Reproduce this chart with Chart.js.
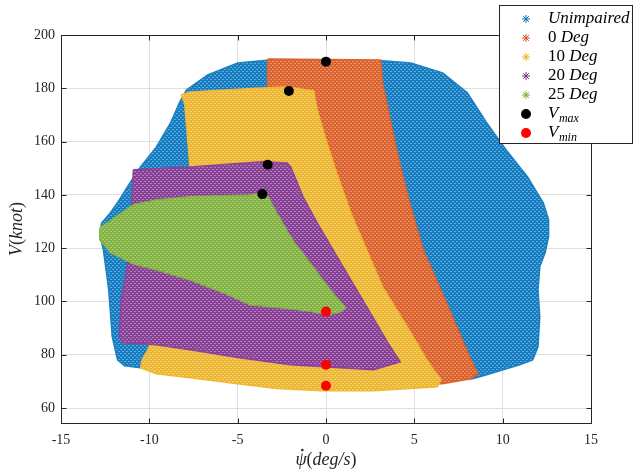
<!DOCTYPE html>
<html><head><meta charset="utf-8">
<script src="https://cdn.jsdelivr.net/npm/chart.js@4/dist/chart.umd.min.js"></script>
<style>html,body{margin:0;padding:0;background:#fff}#wrap{width:633px;height:472px}</style>
</head><body><div id="wrap"><canvas id="c" width="633" height="472"></canvas></div>
<script>
// ---- data ----
const xTickValues = [-15, -10, -5, 0, 5, 10, 15];
const yTickValues = [60, 80, 100, 120, 140, 160, 180, 200];
const seriesLabels = ['Unimpaired', '0 Deg', '10 Deg', '20 Deg', '25 Deg', 'V_max', 'V_min'];
const xTitle = 'ψ̇(deg/s)';
const yTitle = 'V(knot)';

// envelope outlines [yaw rate (deg/s), V (knot)]
const unimpaired = [[-12.7,129.5],[-12.8,125.0],[-12.6,119.4],[-12.3,104.4],[-12.1,86.8],[-11.8,78.1],[-11.4,75.9],[-10.5,75.1],[-5.0,71.4],[2.7,69.9],[8.3,71.0],[9.1,72.5],[11.0,76.3],[11.7,78.1],[12.0,83.0],[12.1,94.3],[12.0,104.4],[12.1,113.0],[12.4,118.3],[12.6,124.3],[12.6,130.6],[12.3,137.0],[11.4,146.8],[10.2,156.9],[9.1,167.0],[8.0,178.3],[6.6,185.8],[4.8,189.5],[3.2,190.3],[-3.2,190.6],[-5.0,189.5],[-6.7,185.0],[-7.9,179.4],[-8.3,174.5],[-8.8,167.0],[-9.6,158.0],[-10.5,150.5],[-11.1,144.5],[-11.7,138.1],[-12.2,133.3]];
const deg0 = [[-3.3,191.0],[3.1,190.6],[3.2,182.0],[3.6,169.3],[4.0,156.9],[4.3,148.3],[4.8,135.5],[5.5,119.4],[6.5,104.4],[7.4,90.5],[8.2,78.1],[8.6,72.9],[8.2,71.0],[6.6,69.1],[5.3,69.1],[-0.3,138.1],[-3.3,175.6]];
const deg10 = [[-8.2,177.5],[-7.7,178.6],[-3.7,180.1],[-2.2,180.5],[-0.7,179.0],[-0.5,171.9],[0.0,160.6],[0.6,148.3],[1.4,133.3],[2.3,119.4],[3.2,105.5],[4.6,90.5],[5.7,78.1],[6.5,70.6],[6.3,68.0],[2.7,66.5],[-0.2,66.5],[-2.8,67.3],[-5.0,69.1],[-7.7,71.4],[-9.6,72.9],[-10.5,75.1],[-10.4,78.1],[-10.0,83.0],[-7.7,150.5],[-8.0,174.5]];
const deg20 = [[-10.9,149.4],[-7.7,150.5],[-3.6,152.4],[-2.2,152.0],[-2.0,150.5],[-1.3,139.3],[-0.5,129.5],[0.4,119.4],[1.4,108.1],[2.5,95.8],[3.5,84.5],[4.2,77.4],[2.7,74.4],[0.8,75.1],[-2.0,76.3],[-4.9,78.9],[-7.7,81.9],[-9.6,83.8],[-11.5,84.5],[-11.7,86.8],[-11.6,100.6],[-11.3,110.8],[-11.1,123.1],[-11.0,138.1]];
const deg25 = [[-12.8,127.6],[-10.9,136.3],[-9.6,138.1],[-7.7,139.3],[-4.3,140.0],[-3.6,140.8],[-3.3,139.6],[-2.8,133.3],[-1.9,123.1],[-0.9,114.5],[0.1,105.5],[1.1,97.6],[0.8,96.1],[0.1,95.0],[-0.7,96.1],[-2.4,97.6],[-4.3,98.8],[-5.8,103.3],[-7.7,108.1],[-9.6,111.9],[-10.9,114.1],[-12.2,118.3],[-12.8,123.1]];
const vmaxX = [0, -2.1, -3.3, -3.6];
const vmaxY = [190, 179, 151.3, 140.3];
const vminX = [0, 0, 0];
const vminY = [96.2, 76.3, 68.4];

// ---- styling ----
const colors = ['#0072BD', '#D95319', '#EDB120', '#7E2F8E', '#77AC30'];
function mix(hex, t) {
  const n = parseInt(hex.slice(1), 16);
  const r = (n >> 16) & 255, g = (n >> 8) & 255, b = n & 255;
  return `rgb(${Math.round(r + (255 - r) * t)},${Math.round(g + (255 - g) * t)},${Math.round(b + (255 - b) * t)})`;
}
function pattern(hex) {
  const c = document.createElement('canvas'); c.width = 4; c.height = 4;
  const x = c.getContext('2d');
  x.fillStyle = mix(hex, 0.08); x.fillRect(0, 0, 4, 4);
  x.fillStyle = mix(hex, 0.4);
  x.fillRect(0, 1, 2, 1); x.fillRect(2, 3, 2, 1);
  return x.createPattern(c, 'repeat');
}
function closed(arr) { const p = arr.map(([x, y]) => ({x, y})); p.push({x: arr[0][0], y: arr[0][1]}); return p; }

const regions = [unimpaired, deg0, deg10, deg20, deg25];
const datasets = regions.map((r, i) => ({
  label: seriesLabels[i],
  data: closed(r),
  showLine: true,
  fill: 'shape',
  backgroundColor: pattern(colors[i]),
  borderColor: mix(colors[i], 0.1),
  borderWidth: 1.5,
  pointRadius: 0,
  pointHoverRadius: 0,
  pointStyle: 'star',
  legendColor: colors[i],
  tension: 0,
  order: 10 - i
}));
datasets.push({
  label: seriesLabels[5], data: vmaxX.map((x, i) => ({x, y: vmaxY[i]})),
  showLine: false, pointStyle: 'circle', pointRadius: 5, backgroundColor: '#000', borderColor: '#000', borderWidth: 0, legendColor: '#000', order: 1
});
datasets.push({
  label: seriesLabels[6], data: vminX.map((x, i) => ({x, y: vminY[i]})),
  showLine: false, pointStyle: 'circle', pointRadius: 5, backgroundColor: '#ff0000', borderColor: '#ff0000', borderWidth: 0, legendColor: '#ff0000', order: 0
});

const SERIF = '"Liberation Serif", "DejaVu Serif", serif';
const AX = '#262626';

// draws math-like text: digits & brackets upright, letters italic, "_" subscript
function mathRuns(text) {
  return text.match(/[\d()\/]+|[^\d()\/]+/g).map(r => ({t: r, it: !/[\d()]/.test(r[0]) || r[0] === '/'}));
}
function mathWidth(ctx, text, size) {
  let w = 0;
  for (const r of mathRuns(text)) { ctx.font = (r.it ? 'italic ' : '') + size + 'px ' + SERIF; w += ctx.measureText(r.t).width; }
  return w;
}
function drawMath(ctx, text, x, y, size) {
  const parts = text.split('_');
  let cx = x;
  for (const r of mathRuns(parts[0])) {
    ctx.font = (r.it ? 'italic ' : '') + size + 'px ' + SERIF;
    ctx.fillText(r.t, cx, y);
    cx += ctx.measureText(r.t).width;
  }
  if (parts[1]) {
    ctx.font = 'italic ' + Math.round(size * 0.72) + 'px ' + SERIF;
    ctx.fillText(parts[1], cx + 0.5, y + size * 0.28);
  }
  return cx;
}

const boxPlugin = {
  id: 'box',
  afterDatasetsDraw(chart) {
    const ctx = chart.ctx, a = chart.chartArea;
    const xs = chart.scales.x, ys = chart.scales.y;
    ctx.save();
    ctx.strokeStyle = AX; ctx.lineWidth = 1;
    const L = Math.round(a.left) + 0.5, R = Math.round(a.right) + 0.5, T = Math.round(a.top) + 0.5, B = Math.round(a.bottom) + 0.5;
    ctx.strokeRect(L, T, R - L, B - T);
    ctx.beginPath();
    for (const v of xTickValues) {
      const p = Math.round(xs.getPixelForValue(v)) + 0.5;
      ctx.moveTo(p, B); ctx.lineTo(p, B - 5);
      ctx.moveTo(p, T); ctx.lineTo(p, T + 5);
    }
    for (const v of yTickValues) {
      const p = Math.round(ys.getPixelForValue(v)) + 0.5;
      ctx.moveTo(L, p); ctx.lineTo(L + 5, p);
      ctx.moveTo(R, p); ctx.lineTo(R - 5, p);
    }
    ctx.stroke();
    ctx.restore();
  },
  afterDraw(chart) {
    const ctx = chart.ctx;
    ctx.save();
    // x-axis title: psi with dot accent
    const a = chart.chartArea;
    const size = 18;
    const base = xTitle.replace('\u0307', '');
    const w = mathWidth(ctx, base, size);
    const tx = (a.left + a.right) / 2 - w / 2, ty = 460;
    ctx.fillStyle = AX; ctx.textBaseline = 'middle'; ctx.textAlign = 'left';
    ctx.font = 'italic ' + size + 'px ' + SERIF;
    const pw = ctx.measureText('ψ').width;
    drawMath(ctx, base, tx, ty, size);
    ctx.beginPath(); ctx.arc(tx + pw * 0.62, ty - 10, 1.3, 0, Math.PI * 2); ctx.fill();
    // y-axis title
    ctx.save();
    const yw = mathWidth(ctx, yTitle, size);
    ctx.translate(17, (a.top + a.bottom) / 2);
    ctx.rotate(-Math.PI / 2);
    drawMath(ctx, yTitle, -yw / 2, 0, size);
    ctx.restore();
    // legend
    const bx = 499.5, by = 5.5, bw = 133, bh = 138;
    ctx.fillStyle = '#fff'; ctx.fillRect(bx, by, bw, bh);
    ctx.strokeStyle = AX; ctx.lineWidth = 1; ctx.strokeRect(bx, by, bw, bh);
    chart.data.datasets.forEach((ds, i) => {
      const yy = 19 + i * 19;
      ctx.fillStyle = ds.legendColor; ctx.strokeStyle = ds.legendColor;
      if (ds.pointStyle === 'star') {
        Chart.helpers.drawPoint(ctx, {pointStyle: 'star', radius: 4, rotation: 0, borderWidth: 1}, 526, yy);
      } else {
        Chart.helpers.drawPoint(ctx, {pointStyle: 'circle', radius: 5, rotation: 0, borderWidth: 0}, 526, yy);
      }
      ctx.fillStyle = '#000'; ctx.textBaseline = 'middle'; ctx.textAlign = 'left';
      drawMath(ctx, ds.label, 548, yy, 17);
    });
    ctx.restore();
  }
};

new Chart(document.getElementById('c'), {
  type: 'scatter',
  data: {datasets},
  options: {
    responsive: false, animation: false, devicePixelRatio: 1,
    layout: {padding: {left: 0, top: 35, right: 42, bottom: 0}},
    plugins: {legend: {display: false}, tooltip: {enabled: false}, filler: {drawTime: 'beforeDatasetDraw'}},
    scales: {
      x: {
        type: 'linear', min: -15, max: 15,
        afterBuildTicks: s => { s.ticks = xTickValues.map(v => ({value: v})); },
        afterFit: s => { s.height = 49; },
        grid: {color: '#dfdfdf', drawTicks: false, lineWidth: 1},
        border: {display: false},
        ticks: {padding: 9, color: AX, font: {family: SERIF, size: 14}, callback: v => String(v)},
        title: {display: false}
      },
      y: {
        type: 'linear', min: 54.4, max: 200,
        afterBuildTicks: s => { s.ticks = yTickValues.map(v => ({value: v})); },
        afterFit: s => { s.width = 61; },
        grid: {color: '#dfdfdf', drawTicks: false, lineWidth: 1},
        border: {display: false},
        ticks: {padding: 6, color: AX, font: {family: SERIF, size: 14}, callback: v => String(v)},
        title: {display: false}
      }
    }
  },
  plugins: [boxPlugin]
});
</script></body></html>
